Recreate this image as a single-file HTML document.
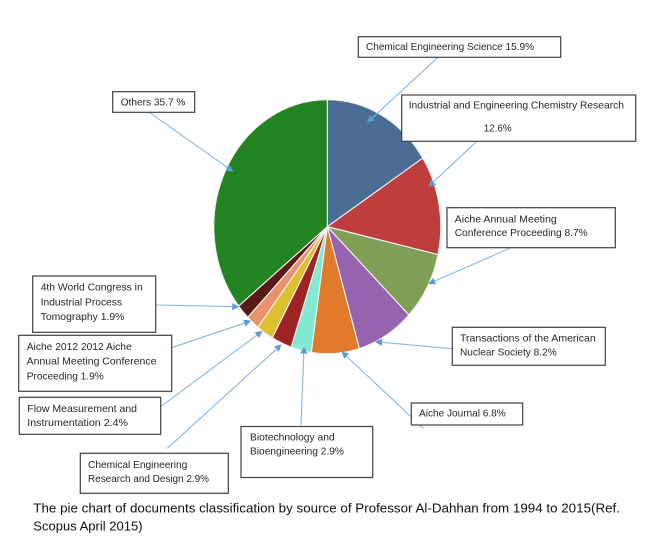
<!DOCTYPE html>
<html lang="en">
<head>
<meta charset="utf-8">
<title>Documents by source pie chart</title>
<style>
html,body{margin:0;padding:0;background:#fff;width:650px;height:555px;overflow:hidden}
svg{display:block}
text{font-family:"Liberation Sans",sans-serif;fill:#262626}
</style>
</head>
<body>
<svg id="chart" xmlns="http://www.w3.org/2000/svg" width="650" height="555" viewBox="0 0 650 555">
  <g id="slices"></g>
  <g id="leaders"></g>
  <g id="callouts"></g>
  <g>
    <text x="33.3" y="512.5" font-size="12.5" textLength="586.7" lengthAdjust="spacingAndGlyphs" style="fill:#111">The pie chart of documents classification by source of Professor Al-Dahhan from 1994 to 2015(Ref.</text>
    <text x="33.3" y="530.5" font-size="12.5" textLength="109.3" lengthAdjust="spacingAndGlyphs" style="fill:#111">Scopus April 2015)</text>
  </g>
</svg>
<script>
// Chart data
const sources = ["Chemical Engineering Science","Industrial and Engineering Chemistry Research","Aiche Annual Meeting Conference Proceeding","Transactions of the American Nuclear Society","Aiche Journal","Biotechnology and Bioengineering","Chemical Engineering Research and Design","Flow Measurement and Instrumentation","Aiche 2012 2012 Aiche Annual Meeting Conference Proceeding","4th World Congress in Industrial Process Tomography","Others"];
const shares = [15.9,12.6,8.7,8.2,6.8,2.9,2.9,2.4,1.9,1.9,35.7];
const labelLines = [
  ["Chemical Engineering Science {v}%"],
  ["Industrial and Engineering Chemistry Research","{v}%"],
  ["Aiche Annual Meeting","Conference Proceeding {v}%"],
  ["Transactions of the American","Nuclear Society {v}%"],
  ["Aiche Journal {v}%"],
  ["Biotechnology and","Bioengineering {v}%"],
  ["Chemical Engineering","Research and Design {v}%"],
  ["Flow Measurement and","Instrumentation {v}%"],
  ["Aiche 2012 2012 Aiche","Annual Meeting Conference","Proceeding {v}%"],
  ["4th World Congress in","Industrial Process","Tomography {v}%"],
  ["Others {v} %"]
];
const sliceColors = ["#4a6d94","#be3d3d","#7f9f54","#9664ae","#e07b2c","#80ead2","#9e2525","#ddbf30","#e8936e","#5a1a16","#228522"];

// Layout (separate from data)
const pie = {cx:327.3, cy:226.7, rx:113.5, ry:127};
const layout = [
  {box:[358.3,36.7,202.4,20.6], from:[438,57.3], dA:-5.5, r:.89, x:[366], y:[50], w:[168]},
  {box:[401.7,95,234,46.3], from:[476.7,141.3], dA:-9.4, r:.944, x:[408.7,483.7], y:[108.7,131.7], w:[215.3,28]},
  {box:[447,207.7,168.3,40], from:[511,247.7], dA:-1.5, r:.997, x:[454.7,454.7], y:[222.3,236], w:[102,133]},
  {box:[452.3,327.3,153,38], from:[452.3,348.7], dA:6.3, r:.998, x:[460,460], y:[341.7,355.7], w:[135.7,96.7]},
  {box:[411.3,403,111.4,22], from:[423.3,428.3], dA:-3.1, r:.99, x:[419], y:[416.3], w:[86.7]},
  {box:[241,426.5,131.7,51], from:[301,425], dA:-1.1, r:.966, x:[250,250], y:[440.7,454.7], w:[84.7,94]},
  {box:[80.3,453.3,148,40], from:[167.3,448.3], dA:-.3, r:1.01, x:[88,88], y:[468,482], w:[99.3,121]},
  {box:[19.3,397.3,141.4,37], from:[160.7,406.7], dA:1.5, r:1, x:[27.3,27.3], y:[412,426], w:[109.7,100.7]},
  {box:[18.7,335.3,153,56], from:[171.7,347.7], dA:1.1, r:1, x:[26.7,26.7,26.7], y:[350,364.7,379.3], w:[105,129.7,77]},
  {box:[32.7,276,123,56.3], from:[155.7,305], dA:3, r:1, x:[40.7,40.7,40.7], y:[290.7,305.3,320], w:[102,81.3,83.7]},
  {box:[112.7,91.7,82,20.6], from:[149.3,112.3], dA:1.9, r:.934, x:[120.7], y:[105.7], w:[64.7]}
];

const NS = "http://www.w3.org/2000/svg";
const total = shares.reduce((a,b)=>a+b,0);
function angleOf(cum){ return cum/total*360; }
function polar(deg,f){
  const a = deg*Math.PI/180;
  return [pie.cx+pie.rx*f*Math.sin(a), pie.cy-pie.ry*f*Math.cos(a)];
}
function slug(s){ return s.toLowerCase().replace(/[^a-z0-9]+/g,'-').replace(/^-|-$/g,''); }

const sliceGroup = document.getElementById('slices');
const leaderGroup = document.getElementById('leaders');
const calloutGroup = document.getElementById('callouts');

let cum = 0;
shares.forEach(function(v,i){
  const a0 = angleOf(cum), a1 = angleOf(cum+v);
  cum += v;
  const p0 = polar(a0,1), p1 = polar(a1,1);
  const large = (a1-a0)>180 ? 1 : 0;
  const key = slug(sources[i]);

  const path = document.createElementNS(NS,'path');
  path.setAttribute('d','M'+pie.cx+' '+pie.cy+'L'+p0[0]+' '+p0[1]+'A'+pie.rx+' '+pie.ry+' 0 '+large+' 1 '+p1[0]+' '+p1[1]+'Z');
  path.setAttribute('fill',sliceColors[i]);
  path.setAttribute('stroke','#f4f4f4');
  path.setAttribute('stroke-width','1.1');
  path.setAttribute('stroke-linejoin','round');
  
  
  sliceGroup.appendChild(path);

  const L = layout[i];
  const tip = polar((a0+a1)/2+L.dA, L.r);
  const dx = tip[0]-L.from[0], dy = tip[1]-L.from[1];
  const len = Math.hypot(dx,dy), ux = dx/len, uy = dy/len;
  const base = [tip[0]-ux*7, tip[1]-uy*7];

  const line = document.createElementNS(NS,'line');
  line.setAttribute('x1',L.from[0]);
  line.setAttribute('y1',L.from[1]);
  line.setAttribute('x2',base[0]);
  line.setAttribute('y2',base[1]);
  line.setAttribute('stroke','#86b8e6');
  line.setAttribute('stroke-width','1.1');
  
  
  leaderGroup.appendChild(line);

  const head = document.createElementNS(NS,'polygon');
  head.setAttribute('points',[tip[0],tip[1],base[0]-uy*3.6,base[1]+ux*3.6,base[0]+uy*3.6,base[1]-ux*3.6].join(' '));
  head.setAttribute('fill','#5b9bd5');
  
  
  leaderGroup.appendChild(head);

  const rect = document.createElementNS(NS,'rect');
  rect.setAttribute('x',L.box[0]);
  rect.setAttribute('y',L.box[1]);
  rect.setAttribute('width',L.box[2]);
  rect.setAttribute('height',L.box[3]);
  rect.setAttribute('fill','#fff');
  rect.setAttribute('stroke','#404040');
  rect.setAttribute('stroke-width','1.2');
  
  
  calloutGroup.appendChild(rect);

  labelLines[i].forEach(function(t,j){
    const txt = document.createElementNS(NS,'text');
    txt.setAttribute('x',L.x[j]);
    txt.setAttribute('y',L.y[j]);
    txt.setAttribute('font-size','10.4');
    txt.setAttribute('textLength',L.w[j]);
    txt.setAttribute('lengthAdjust','spacingAndGlyphs');
    txt.textContent = t.replace('{v}',v.toFixed(1));
    
    
    calloutGroup.appendChild(txt);
  });
});
</script>
</body>
</html>
